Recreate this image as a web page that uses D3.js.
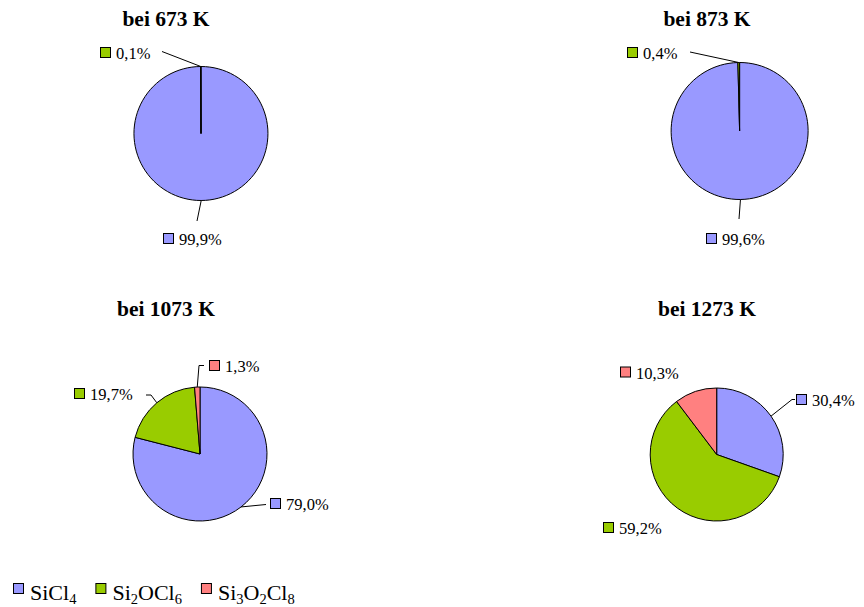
<!DOCTYPE html>
<html>
<head>
<meta charset="utf-8">
<script src="https://cdn.jsdelivr.net/npm/d3@7"></script>
<style>
  body { margin: 0; background: #fff; }
  svg { display: block; }
</style>
</head>
<body>
<svg id="chart" width="864" height="607"></svg>
<script>
// Gas-phase composition (mol-%) at four temperatures
const species = ["SiCl4", "Si2OCl6", "Si3O2Cl8"];
const temperatures = [673, 873, 1073, 1273];
const sicl4 = [99.9, 99.6, 79.0, 30.4];
const si2ocl6 = [0.1, 0.4, 19.7, 59.2];
const si3o2cl8 = [0.0, 0.0, 1.3, 10.3];
const colors = ["#9999FF", "#99CC00", "#FF8080"];

// Panel placement: pie centre/radius, title anchor, and per-species label anchors
// (label: left edge of the swatch, text baseline, optional leader bend points)
const panels = [
  { cx: 201, cy: 133.5, r: 67, tx: 166, ty: 26,
    labels: [ { x: 163, y: 245, leader: [[197, 221]] },
              { x: 100, y: 59, leader: [[162, 51.5]] },
              null ] },
  { cx: 739.6, cy: 131, r: 68.5, tx: 707, ty: 26,
    labels: [ { x: 706, y: 245, leader: [[739, 219]] },
              { x: 627, y: 59, leader: [[690, 52]] },
              null ] },
  { cx: 200, cy: 454, r: 67, tx: 166, ty: 316,
    labels: [ { x: 270, y: 510, leader: [[266, 504.5]] },
              { x: 74, y: 400, leader: [[151, 395], [146, 395]] },
              { x: 209, y: 372, leader: [[199, 365.5], [204, 365.5]] } ] },
  { cx: 716.7, cy: 454.5, r: 66.5, tx: 707, ty: 316,
    labels: [ { x: 796, y: 406, leader: [[792, 399.5], [795, 399.5]] },
              { x: 603, y: 534, leader: null },
              { x: 620, y: 378.5, leader: null } ] }
];

const FONT = "'Liberation Serif', 'Times New Roman', serif";
const svg = d3.select("#chart");
const pie = d3.pie().sort(null).value(d => d.value);
const fmt = v => d3.format(".1f")(v).replace(".", ",") + "%";
const sw = 10; // swatch size

temperatures.forEach((T, i) => {
  const p = panels[i];
  const rows = species.map((s, k) => ({
    key: s, k,
    value: [sicl4, si2ocl6, si3o2cl8][k][i]
  }));
  const arc = d3.arc().innerRadius(0).outerRadius(p.r);
  const arcs = pie(rows);

  // title
  svg.append("text")
    .attr("x", p.tx).attr("y", p.ty)
    .attr("text-anchor", "middle")
    .attr("font-family", FONT)
    .attr("font-size", 21.5).attr("font-weight", "bold")
    .text(`bei ${T} K`);

  const g = svg.append("g").attr("transform", `translate(${p.cx},${p.cy})`);

  g.selectAll("path.slice")
    .data(arcs.filter(a => a.data.value > 0))
    .join("path")
    .attr("class", "slice")
    .attr("d", arc)
    .attr("fill", a => colors[a.data.k])
    .attr("stroke", "#000")
    .attr("stroke-width", 1)
    .attr("stroke-linejoin", "round");

  // data labels with leader lines
  arcs.forEach(a => {
    const lab = p.labels[a.data.k];
    if (!lab || a.data.value <= 0) return;
    const mid = (a.startAngle + a.endAngle) / 2;
    const ax = p.cx + p.r * Math.sin(mid);
    const ay = p.cy - p.r * Math.cos(mid);
    if (lab.leader) {
      const pts = [[ax, ay]].concat(lab.leader);
      svg.append("path")
        .attr("d", d3.line()(pts))
        .attr("fill", "none")
        .attr("stroke", "#000")
        .attr("stroke-width", 1);
    }
    svg.append("rect")
      .attr("x", lab.x + 0.5).attr("y", lab.y - 11.5)
      .attr("width", sw).attr("height", sw)
      .attr("fill", colors[a.data.k])
      .attr("stroke", "#000").attr("stroke-width", 1);
    svg.append("text")
      .attr("x", lab.x + 16).attr("y", lab.y)
      .attr("font-family", FONT)
      .attr("font-size", 16.5)
      .text(fmt(a.data.value));
  });
});

// legend with chemical subscripts
let lx = 13;
const ly = 600;
species.forEach((s, k) => {
  svg.append("rect")
    .attr("x", lx + 0.5).attr("y", ly - 16.5)
    .attr("width", 10).attr("height", 10)
    .attr("fill", colors[k])
    .attr("stroke", "#000").attr("stroke-width", 1);
  const t = svg.append("text")
    .attr("x", lx + 17).attr("y", ly)
    .attr("font-family", FONT)
    .attr("font-size", 22);
  let shift = 0;
  s.split(/(\d+)/).filter(x => x.length).forEach(part => {
    const sub = /^\d+$/.test(part);
    const target = sub ? 4 : 0;
    t.append("tspan")
      .attr("font-size", sub ? 14.5 : 22)
      .attr("dy", target - shift)
      .text(part);
    shift = target;
  });
  lx = lx + 17 + t.node().getComputedTextLength() + 19;
});
</script>
</body>
</html>
